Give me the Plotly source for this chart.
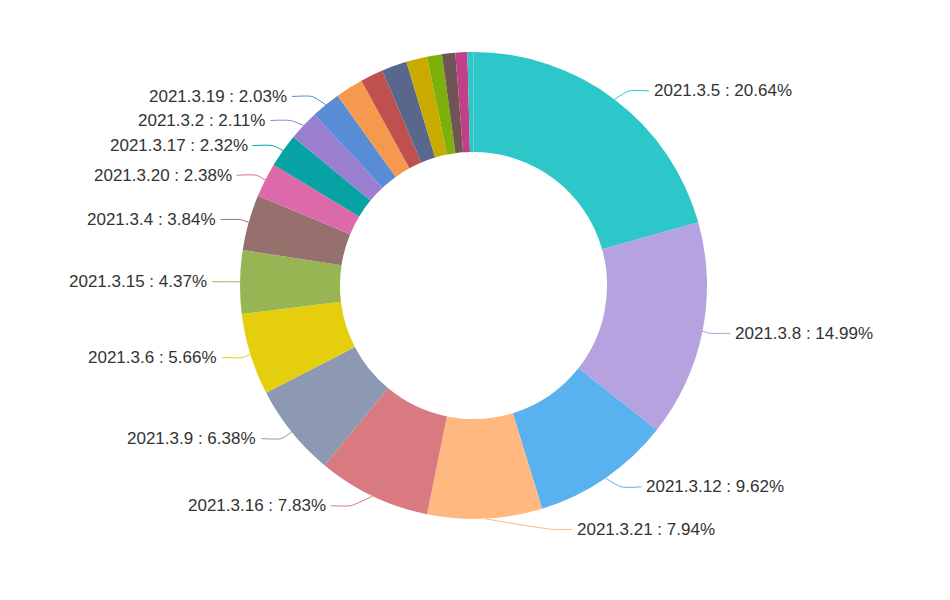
import math
import plotly.graph_objects as go

# ---- data ----
labels = ["2021.3.5", "2021.3.8", "2021.3.12", "2021.3.21", "2021.3.16", "2021.3.9",
          "2021.3.6", "2021.3.15", "2021.3.4", "2021.3.20", "2021.3.17", "2021.3.2",
          "2021.3.19", "2021.3.1", "2021.3.10", "2021.3.11", "2021.3.7", "2021.3.13",
          "2021.3.14", "2021.3.18", "2021.3.22"]
values = [20.64, 14.99, 9.62, 7.94, 7.83, 6.38, 5.66, 4.37, 3.84, 2.38, 2.32, 2.11,
          2.03, 1.92, 1.58, 1.75, 1.45, 1.03, 0.92, 0.82, 0.42]
show_label = [True] * 13 + [False] * 8
colors = ['#2ec7c9', '#b6a2de', '#5ab1ef', '#ffb980', '#d87a80', '#8d98b3', '#e5cf0d',
          '#97b552', '#95706d', '#dc69aa', '#07a2a4', '#9a7fd1', '#588dd5', '#f5994e',
          '#c05050', '#59678c', '#c9ab00', '#7eb00a', '#6f5553', '#c14089', '#2ec7c9']

# ---- layout constants (pixels) ----
W, H = 950, 600
CX, CY, R = 473.5, 285.5, 233.5
HOLE = 0.572
LEN1, LEN2, TEXT_GAP, LABEL_H = 10.6, 20, 3, 24

fig = go.Figure()
fig.add_trace(go.Pie(
    labels=labels, values=values, sort=False, direction="clockwise", rotation=0,
    hole=HOLE, textinfo="none", marker=dict(colors=colors, line=dict(width=0)),
    domain=dict(x=[(CX - R) / W, (CX + R) / W], y=[(H - CY - R) / H, (H - CY + R) / H]),
    showlegend=False, hoverinfo="label+percent"))

# ---- label layout (ECharts-like outside labels) ----
total = sum(values)
cum = 0
items = []
for lab, v, show, col in zip(labels, values, show_label, colors):
    mid = (cum + v / 2) / total * 2 * math.pi
    cum += v
    if not show:
        continue
    s, c = math.sin(mid), math.cos(mid)
    x1, y1 = CX + R * s, CY - R * c
    x2, y2 = CX + (R + LEN1) * s, CY - (R + LEN1) * c
    side = 1 if s >= 0 else -1
    x3 = x2 + side * LEN2
    items.append(dict(text=f"{lab} : {v / total * 100:.2f}%", p1=(x1, y1), side=side,
                      col=col, x=x3 + side * (TEXT_GAP + 2), y=y2))


def adjust_side(lst, direction):
    lst.sort(key=lambda d: d["y"])
    n = len(lst)

    def shift_up(end, delta):
        for j in range(end, -1, -1):
            lst[j]["y"] -= delta
            if j > 0 and lst[j]["y"] > lst[j - 1]["y"] + LABEL_H:
                break

    def shift_down(start, end, delta):
        for j in range(start, end):
            lst[j]["y"] += delta
            if j > start and j + 1 < end and lst[j + 1]["y"] > lst[j]["y"] + LABEL_H:
                shift_up(j, delta / 2)
                return
        shift_up(end - 1, delta / 2)

    last_y = 0
    for i in range(n):
        d = lst[i]["y"] - last_y
        if d < 0:
            shift_down(i, n, -d)
        last_y = lst[i]["y"] + LABEL_H

    r3 = R + LEN1 + LEN2
    for is_down in (False, True):
        sub = [it for it in lst if (it["y"] >= CY) == is_down]
        last_dx = math.inf if is_down else 0
        for it in sub:
            dy = abs(it["y"] - CY)
            if dy < R + LEN1:
                dx = math.sqrt(r3 * r3 - dy * dy)
            else:
                dx = abs(it["x"] - CX)
            if is_down and dx >= last_dx:
                dx = last_dx - 10
            if (not is_down) and dx <= last_dx:
                dx = last_dx + 10
            it["x"] = CX + dx * direction
            last_dx = dx


adjust_side([it for it in items if it["side"] > 0], 1)
adjust_side([it for it in items if it["side"] < 0], -1)

for it in items:
    side, y = it["side"], it["y"]
    p3x = it["x"] - side * TEXT_GAP
    p2x = p3x - side * LEN2
    fig.add_trace(go.Scatter(x=[it["p1"][0], p2x, p3x], y=[it["p1"][1], y, y], mode="lines",
                             line=dict(color=it["col"], width=1, shape="spline", smoothing=0.6),
                             hoverinfo="skip", showlegend=False))
    fig.add_annotation(x=it["x"], y=y, text=it["text"], showarrow=False,
                       xanchor="left" if side > 0 else "right", yanchor="middle",
                       font=dict(size=17, color="#333333", family="Liberation Sans"))

fig.update_layout(
    width=W, height=H, margin=dict(l=0, r=0, t=0, b=0),
    paper_bgcolor="white", plot_bgcolor="rgba(0,0,0,0)",
    xaxis=dict(range=[0, W], visible=False, fixedrange=True),
    yaxis=dict(range=[H, 0], visible=False, fixedrange=True),
)
fig.write_html("out.html")
